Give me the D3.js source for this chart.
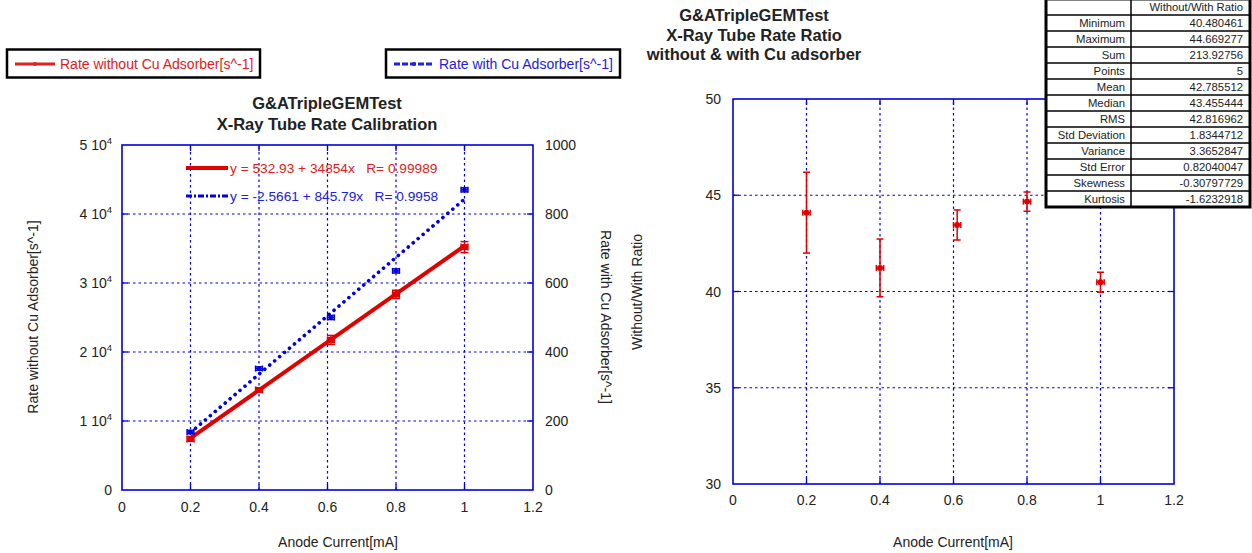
<!DOCTYPE html>
<html>
<head>
<meta charset="utf-8">
<script src="https://cdn.jsdelivr.net/npm/d3@7"></script>
<style>
  html, body { margin: 0; padding: 0; background: #fff; }
  svg { display: block; font-family: "Liberation Sans", Arial, sans-serif; }
</style>
</head>
<body>
<svg id="chart" width="1252" height="553"></svg>
<script>
// Anode current settings [mA] and their uncertainty
const current = [0.2, 0.4, 0.61, 0.8, 1.0];
const currentErr = [0.01, 0.01, 0.01, 0.01, 0.01];

// Measured rates [s^-1]
const rateWithout = [7400, 14500, 21750, 28350, 35200];
const rateWithoutErr = [350, 300, 650, 600, 800];
const rateWith = [168, 352, 500, 635, 870];
const rateWithErr = [5, 5, 6, 6, 6];

// Ratio without / with absorber
const ratio = [44.096387, 41.225991, 43.455444, 44.669277, 40.480461];
const ratioErr = [2.1, 1.5, 0.78, 0.5, 0.52];

// Linear fits y = a + b x
const fitWithout = [532.93, 34854, 0.99989];
const fitWith = [-2.5661, 845.79, 0.9958];

// Tick values
const xTicks = [0, 0.2, 0.4, 0.6, 0.8, 1, 1.2];
const yLeftTicks = [0, 1e4, 2e4, 3e4, 4e4, 5e4];
const yRightTicks = [0, 200, 400, 600, 800, 1000];
const ratioTicks = [30, 35, 40, 45, 50];

// Summary statistics of the ratio
const statNames = ["Minimum", "Maximum", "Sum", "Points", "Mean", "Median", "RMS",
  "Std Deviation", "Variance", "Std Error", "Skewness", "Kurtosis"];
const statValues = ["40.480461", "44.669277", "213.92756", "5", "42.785512", "43.455444",
  "42.816962", "1.8344712", "3.3652847", "0.82040047", "-0.30797729", "-1.6232918"];

const RED = "#e00000", BLUE = "#0000dd", FRAME = "#0000dd", TXT = "#222";
const FS = 14, TITLE_FS = 16.5;
const svg = d3.select("#chart");

function gridAndFrame(g, x, y, xt, yt) {
  const [x0, x1] = x.range(), [y0, y1] = y.range();
  const inner = xt.filter(v => v > x.domain()[0] && v < x.domain()[1]);
  const innerY = yt.filter(v => v > y.domain()[0] && v < y.domain()[1]);
  g.selectAll(null).data(inner).join("line")
    .attr("x1", d => x(d)).attr("x2", d => x(d)).attr("y1", y0).attr("y2", y1)
    .attr("stroke", BLUE).attr("stroke-width", 1.2).attr("stroke-dasharray", "2.5,3");
  g.selectAll(null).data(innerY).join("line")
    .attr("x1", x0).attr("x2", x1).attr("y1", d => y(d)).attr("y2", d => y(d))
    .attr("stroke", BLUE).attr("stroke-width", 1.2).attr("stroke-dasharray", "2.5,3");
  // tick marks on all four sides
  const tk = 6;
  inner.forEach(v => {
    g.append("line").attr("x1", x(v)).attr("x2", x(v)).attr("y1", y0).attr("y2", y0 - tk)
      .attr("stroke", FRAME).attr("stroke-width", 1.3);
    g.append("line").attr("x1", x(v)).attr("x2", x(v)).attr("y1", y1).attr("y2", y1 + tk)
      .attr("stroke", FRAME).attr("stroke-width", 1.3);
  });
  innerY.forEach(v => {
    g.append("line").attr("x1", x0).attr("x2", x0 + tk).attr("y1", y(v)).attr("y2", y(v))
      .attr("stroke", FRAME).attr("stroke-width", 1.3);
    g.append("line").attr("x1", x1).attr("x2", x1 - tk).attr("y1", y(v)).attr("y2", y(v))
      .attr("stroke", FRAME).attr("stroke-width", 1.3);
  });
  g.append("rect").attr("x", x0).attr("y", y1).attr("width", x1 - x0).attr("height", y0 - y1)
    .attr("fill", "none").attr("stroke", FRAME).attr("stroke-width", 1.6);
}

function errorBars(g, x, y, xs, ys, xe, ye, color, capW, capH) {
  xs.forEach((xv, i) => {
    const cx = x(xv), cy = y(ys[i]);
    const yt = y(ys[i] + ye[i]), yb = y(ys[i] - ye[i]);
    const xl = x(xv - xe[i]), xr = x(xv + xe[i]);
    g.append("line").attr("x1", cx).attr("x2", cx).attr("y1", yt).attr("y2", yb)
      .attr("stroke", color).attr("stroke-width", 1.5);
    g.append("line").attr("x1", cx - capW).attr("x2", cx + capW).attr("y1", yt).attr("y2", yt)
      .attr("stroke", color).attr("stroke-width", 1.5);
    g.append("line").attr("x1", cx - capW).attr("x2", cx + capW).attr("y1", yb).attr("y2", yb)
      .attr("stroke", color).attr("stroke-width", 1.5);
    g.append("line").attr("x1", xl).attr("x2", xr).attr("y1", cy).attr("y2", cy)
      .attr("stroke", color).attr("stroke-width", 1.5);
    g.append("line").attr("x1", xl).attr("x2", xl).attr("y1", cy - capH).attr("y2", cy + capH)
      .attr("stroke", color).attr("stroke-width", 1.5);
    g.append("line").attr("x1", xr).attr("x2", xr).attr("y1", cy - capH).attr("y2", cy + capH)
      .attr("stroke", color).attr("stroke-width", 1.5);
  });
}

// ---------- Left panel: rate calibration ----------
const xL = d3.scaleLinear().domain([0, 1.2]).range([122, 533]);
const yL = d3.scaleLinear().domain([0, 5e4]).range([490, 145]);
const yR = d3.scaleLinear().domain([0, 1000]).range([490, 145]);
const left = svg.append("g");
gridAndFrame(left, xL, yL, xTicks, yLeftTicks);

// x tick labels
left.selectAll(null).data(xTicks).join("text")
  .attr("x", d => xL(d)).attr("y", 512).attr("text-anchor", "middle")
  .attr("font-size", FS).attr("fill", TXT).text(d => d3.format("~g")(d));
// left y tick labels: "n 10^4"
yLeftTicks.forEach(v => {
  const t = left.append("text").attr("x", 112).attr("y", yL(v) + 5)
    .attr("text-anchor", "end").attr("font-size", FS).attr("fill", TXT);
  if (v === 0) { t.text("0"); return; }
  t.append("tspan").text((v / 1e4) + " 10");
  t.append("tspan").attr("dy", -6).attr("font-size", 9.5).text("4");
});
// right y tick labels
left.selectAll(null).data(yRightTicks).join("text")
  .attr("x", 545).attr("y", d => yR(d) + 5).attr("font-size", FS).attr("fill", TXT)
  .text(d => d);

// fit lines
const fitX = [d3.min(current), d3.max(current)];
left.append("path")
  .attr("d", d3.line().x(d => xL(d)).y(d => yR(fitWith[0] + fitWith[1] * d))(fitX))
  .attr("stroke", BLUE).attr("stroke-width", 3.6).attr("fill", "none")
  .attr("stroke-dasharray", "0.1,6.4").attr("stroke-linecap", "round");
left.append("path")
  .attr("d", d3.line().x(d => xL(d)).y(d => yL(fitWithout[0] + fitWithout[1] * d))(fitX))
  .attr("stroke", RED).attr("stroke-width", 4).attr("fill", "none");

// measurement points
errorBars(left, xL, yR, current, rateWith, currentErr, rateWithErr, BLUE, 3.5, 3);
left.selectAll(null).data(current).join("circle")
  .attr("cx", d => xL(d)).attr("cy", (d, i) => yR(rateWith[i])).attr("r", 2.2).attr("fill", BLUE);
errorBars(left, xL, yL, current, rateWithout, currentErr, rateWithoutErr, RED, 4, 3.5);
left.selectAll(null).data(current).join("rect")
  .attr("x", d => xL(d) - 3).attr("y", (d, i) => yL(rateWithout[i]) - 3)
  .attr("width", 6).attr("height", 6).attr("fill", RED);

// fit annotations
left.append("line").attr("x1", 186).attr("x2", 228).attr("y1", 168).attr("y2", 168)
  .attr("stroke", RED).attr("stroke-width", 4);
left.append("text").attr("x", 230).attr("y", 173).attr("font-size", 13.7).attr("fill", "#e02020")
  .style("white-space", "pre")
  .text(`y = ${fitWithout[0]} + ${fitWithout[1]}x   R= ${fitWithout[2]}`);
left.append("line").attr("x1", 186).attr("x2", 228).attr("y1", 196).attr("y2", 196)
  .attr("stroke", BLUE).attr("stroke-width", 3).attr("stroke-dasharray", "6,2,2,2");
left.append("text").attr("x", 230).attr("y", 201).attr("font-size", 13.7).attr("fill", "#2020e0")
  .style("white-space", "pre")
  .text(`y = ${fitWith[0]} + ${fitWith[1]}x   R= ${fitWith[2]}`);

// titles and axis labels
left.append("text").attr("x", 327).attr("y", 109).attr("text-anchor", "middle")
  .attr("font-size", TITLE_FS).attr("font-weight", "bold").attr("fill", TXT).text("G&ATripleGEMTest");
left.append("text").attr("x", 327).attr("y", 130).attr("text-anchor", "middle")
  .attr("font-size", TITLE_FS).attr("font-weight", "bold").attr("fill", TXT).text("X-Ray Tube Rate Calibration");
left.append("text").attr("x", 338).attr("y", 547).attr("text-anchor", "middle")
  .attr("font-size", FS).attr("fill", TXT).text("Anode Current[mA]");
left.append("text").attr("transform", "translate(38,317) rotate(-90)").attr("text-anchor", "middle")
  .attr("font-size", FS).attr("fill", TXT).text("Rate without Cu Adsorber[s^-1]");
left.append("text").attr("transform", "translate(601,317) rotate(90)").attr("text-anchor", "middle")
  .attr("font-size", FS).attr("fill", TXT).text("Rate with Cu Adsorber[s^-1]");

// legend boxes
function legendBox(x0, x1, color, dash, label) {
  const g = svg.append("g");
  g.append("rect").attr("x", x0).attr("y", 49.5).attr("width", x1 - x0).attr("height", 28)
    .attr("fill", "#fff").attr("stroke", "#000").attr("stroke-width", 2.5);
  const l = g.append("line").attr("x1", x0 + 8).attr("x2", x0 + 48).attr("y1", 64).attr("y2", 64)
    .attr("stroke", color).attr("stroke-width", 3);
  if (dash) l.attr("stroke-dasharray", dash);
  g.append("circle").attr("cx", x0 + 28).attr("cy", 64).attr("r", 2).attr("fill", color);
  g.append("text").attr("x", x0 + 53).attr("y", 69).attr("font-size", FS).attr("fill", color)
    .text(label);
}
legendBox(7, 260, "#e02020", null, "Rate without Cu Adsorber[s^-1]");
legendBox(386, 620, "#2020e0", "6,2", "Rate with Cu Adsorber[s^-1]");

// ---------- Right panel: ratio ----------
const xQ = d3.scaleLinear().domain([0, 1.2]).range([733, 1174]);
const yQ = d3.scaleLinear().domain([30, 50]).range([484, 99]);
const right = svg.append("g");
gridAndFrame(right, xQ, yQ, xTicks, ratioTicks);
right.selectAll(null).data(xTicks).join("text")
  .attr("x", d => xQ(d)).attr("y", 505).attr("text-anchor", "middle")
  .attr("font-size", FS).attr("fill", TXT).text(d => d3.format("~g")(d));
right.selectAll(null).data(ratioTicks).join("text")
  .attr("x", 721).attr("y", d => yQ(d) + 5).attr("text-anchor", "end")
  .attr("font-size", FS).attr("fill", TXT).text(d => d);
errorBars(right, xQ, yQ, current, ratio, currentErr, ratioErr, RED, 3.5, 3);
right.selectAll(null).data(current).join("circle")
  .attr("cx", d => xQ(d)).attr("cy", (d, i) => yQ(ratio[i])).attr("r", 3).attr("fill", RED);

["G&ATripleGEMTest", "X-Ray Tube Rate Ratio", "without & with Cu adsorber"].forEach((s, i) => {
  right.append("text").attr("x", 754).attr("y", 21 + i * 19.5).attr("text-anchor", "middle")
    .attr("font-size", TITLE_FS).attr("font-weight", "bold").attr("fill", TXT).text(s);
});
right.append("text").attr("x", 953).attr("y", 547).attr("text-anchor", "middle")
  .attr("font-size", FS).attr("fill", TXT).text("Anode Current[mA]");
right.append("text").attr("transform", "translate(642,292) rotate(-90)").attr("text-anchor", "middle")
  .attr("font-size", FS).attr("fill", TXT).text("Without/With Ratio");

// statistics table
const tb = svg.append("g");
const tx0 = 1046, tx1 = 1250, tdiv = 1131, rowH = 16, ty0 = -1;
const rows = statNames.length + 1;
tb.append("rect").attr("x", tx0).attr("y", ty0).attr("width", tx1 - tx0).attr("height", rows * rowH)
  .attr("fill", "#fff");
for (let i = 1; i < rows; i++) {
  tb.append("line").attr("x1", tx0).attr("x2", tx1).attr("y1", ty0 + i * rowH).attr("y2", ty0 + i * rowH)
    .attr("stroke", "#000").attr("stroke-width", 1.5);
}
tb.append("line").attr("x1", tdiv).attr("x2", tdiv).attr("y1", ty0).attr("y2", ty0 + rows * rowH)
  .attr("stroke", "#000").attr("stroke-width", 1.5);
tb.append("rect").attr("x", tx0).attr("y", ty0).attr("width", tx1 - tx0).attr("height", rows * rowH)
  .attr("fill", "none").attr("stroke", "#000").attr("stroke-width", 3);
tb.append("text").attr("x", 1243).attr("y", ty0 + rowH / 2 + 4).attr("text-anchor", "end")
  .attr("font-size", 11.3).attr("fill", TXT).text("Without/With Ratio");
statNames.forEach((n, i) => {
  const yy = ty0 + (i + 1) * rowH + rowH / 2 + 4;
  tb.append("text").attr("x", 1125).attr("y", yy).attr("text-anchor", "end")
    .attr("font-size", 11.3).attr("fill", TXT).text(n);
  tb.append("text").attr("x", 1243).attr("y", yy).attr("text-anchor", "end")
    .attr("font-size", 11.3).attr("fill", TXT).text(statValues[i]);
});
</script>
</body>
</html>
